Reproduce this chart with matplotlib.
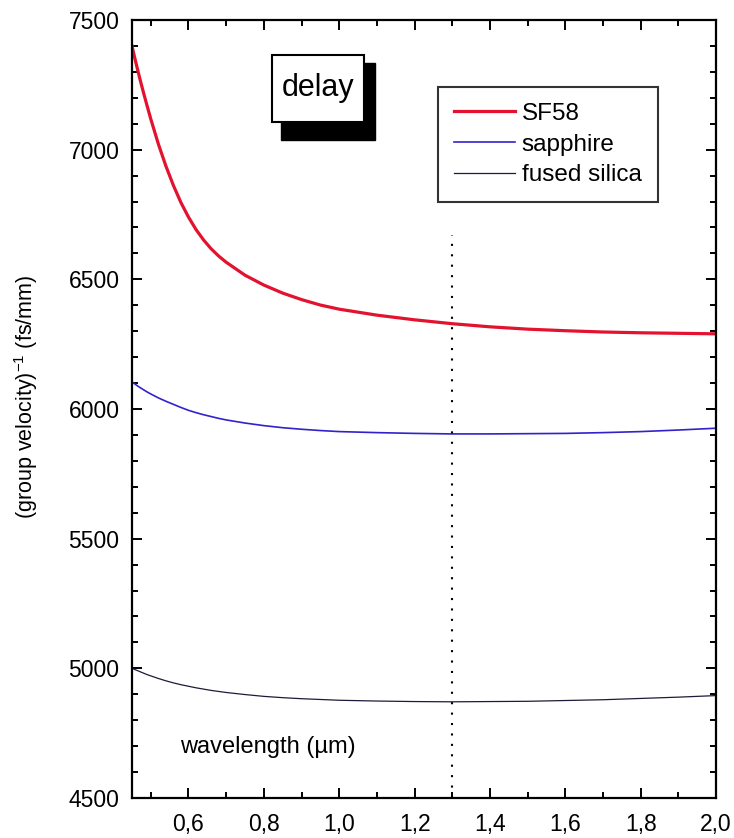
import matplotlib
matplotlib.use("Agg")
import matplotlib.pyplot as plt
from matplotlib.patches import Rectangle
from matplotlib.ticker import MultipleLocator, FuncFormatter

plt.rcParams['font.family'] = ['Liberation Sans', 'DejaVu Sans']
plt.rcParams['mathtext.fontset'] = 'custom'
plt.rcParams['mathtext.rm'] = 'Liberation Sans'

# wavelength in um, inverse group velocity in fs/mm
wavelength = [0.45, 0.46, 0.47, 0.48, 0.49, 0.50, 0.52, 0.54, 0.56, 0.58,
              0.60, 0.62, 0.64, 0.66, 0.68, 0.70, 0.75, 0.80, 0.85, 0.90,
              0.95, 1.00, 1.10, 1.20, 1.30, 1.40, 1.50, 1.60, 1.70, 1.80,
              1.90, 2.00]
sf58 = [7400, 7338, 7279, 7223, 7170, 7118, 7022, 6937, 6862, 6796,
        6740, 6692, 6652, 6618, 6590, 6566, 6516, 6478, 6447, 6422,
        6401, 6385, 6362, 6344, 6329, 6317, 6308, 6302, 6297, 6294,
        6292, 6290]
sapphire = [6105, 6094, 6084, 6075, 6066, 6058, 6043, 6030, 6018, 6006,
            5995, 5986, 5978, 5971, 5964, 5958, 5946, 5936, 5928, 5922,
            5917, 5913, 5909, 5906, 5904, 5904, 5905, 5906, 5909, 5913,
            5919, 5926]
fused_silica = [5000, 4994, 4988, 4982, 4976, 4971, 4961, 4952, 4944, 4937,
                4931, 4925, 4920, 4915, 4911, 4907, 4899, 4892, 4887, 4883,
                4880, 4877, 4874, 4872, 4871, 4872, 4873, 4876, 4879, 4884,
                4889, 4895]

marker_wl = 1.3

fig = plt.figure(figsize=(7.34, 8.38), dpi=100)
ax = fig.add_axes([0.1798, 0.0477, 0.7957, 0.9284])

ax.plot(wavelength, sf58, color='#e3122f', lw=2.3, label='SF58')
ax.plot(wavelength, sapphire, color='#3322cc', lw=1.2, label='sapphire')
ax.plot(wavelength, fused_silica, color='#1c1c3a', lw=0.9, label='fused silica')
ax.vlines(marker_wl, 4500, 6670, colors='black', lw=1.5, linestyles=(0, (1, 4)))

ax.set_xlim(0.45, 2.0)
ax.set_ylim(4500, 7500)
ax.xaxis.set_major_locator(MultipleLocator(0.2))
ax.xaxis.set_minor_locator(MultipleLocator(0.1))
ax.yaxis.set_major_locator(MultipleLocator(500))
ax.yaxis.set_minor_locator(MultipleLocator(100))
ax.xaxis.set_major_formatter(FuncFormatter(lambda v, p: f"{v:.1f}".replace('.', ',')))
ax.tick_params(which='both', direction='in', top=True, right=True, width=1.4, labelsize=16.5)
ax.tick_params(which='major', length=7)
ax.tick_params(which='minor', length=4.5)
ax.tick_params(axis='y', pad=9)
ax.tick_params(axis='x', pad=11)
for s in ax.spines.values():
    s.set_linewidth(1.6)

ax.text(0.082, 0.066, 'wavelength (µm)', transform=ax.transAxes,
        fontsize=17, ha='left', va='center')
fig.text(0.036, 0.527, '(group velocity)$^{-1}$ (fs/mm)', rotation=90,
         fontsize=15.5, ha='center', va='center')

# "delay" label box with drop shadow
ax.add_patch(Rectangle((0.255, 0.846), 0.161, 0.099, transform=ax.transAxes,
                       facecolor='black', edgecolor='black', zorder=5))
ax.add_patch(Rectangle((0.240, 0.869), 0.158, 0.086, transform=ax.transAxes,
                       facecolor='white', edgecolor='black', lw=1.5, zorder=6))
ax.text(0.319, 0.913, 'delay', transform=ax.transAxes, fontsize=22,
        ha='center', va='center', zorder=7)

leg = ax.legend(loc='upper left', bbox_to_anchor=(0.524, 0.914), fontsize=17.5,
                frameon=True, fancybox=False, handlelength=2.5,
                handletextpad=0.3, borderpad=0.65, labelspacing=0.36,
                borderaxespad=0)
leg.get_frame().set_edgecolor('black')
leg.get_frame().set_linewidth(1.5)

fig.savefig('out.png', dpi=100)
